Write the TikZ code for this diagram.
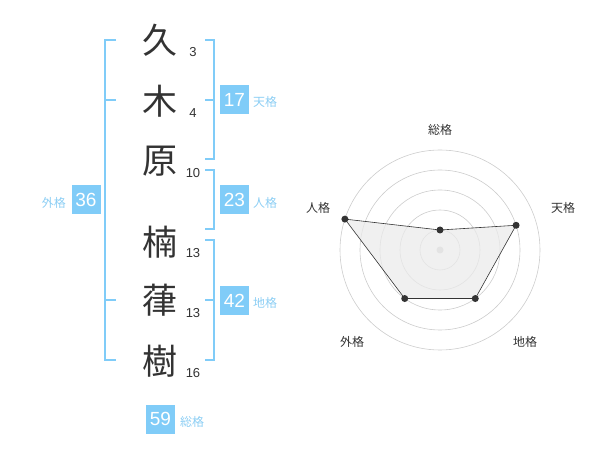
\documentclass[tikz,border=0pt]{standalone}
\usepackage{fontspec}
\setmainfont{Liberation Sans}
\newfontfamily\cjk{Noto Sans CJK JP}
\usepackage{tikz}
\definecolor{kakublue}{RGB}{128,204,248}
\definecolor{kakutext}{RGB}{140,206,244}
\definecolor{ink}{RGB}{51,51,51}
\definecolor{ringgray}{RGB}{204,204,204}
\definecolor{areagray}{RGB}{235,235,235}
\tikzset{
  kanji/.style={font=\cjk\fontsize{35}{35}\selectfont, text=ink, inner sep=0pt},
  strokes/.style={font=\fontsize{13}{13}\selectfont, text=ink, inner sep=0pt},
  kakubox/.style={fill=kakublue, text=white, minimum width=29pt, minimum height=29pt, inner sep=0pt, font=\fontsize{19}{19}\selectfont},
  kakulabel/.style={text=kakutext, font=\cjk\fontsize{12}{12}\selectfont, inner sep=0pt},
  brace/.style={draw=kakublue, line width=2pt},
  ring/.style={draw=ringgray, line width=0.6pt},
  axislabel/.style={text=ink, font=\cjk\fontsize{12}{12}\selectfont, inner sep=0pt},
  dot/.style={circle, fill=ink, inner sep=0pt, minimum size=7pt}
}
\begin{document}
\begin{tikzpicture}[x=1pt, y=-1pt]
  \useasboundingbox (0,0) rectangle (600,470);
  % name characters and stroke counts
  \node [kanji] (c1) at (160, 40) {久};
  \node [kanji] (c2) at (160, 101) {木};
  \node [kanji] (c3) at (160, 161) {原};
  \node [kanji] (c4) at (160, 242) {楠};
  \node [kanji] (c5) at (160, 300) {葎};
  \node [kanji] (c6) at (160, 361) {樹};
  \node [strokes] (s1) at (193, 52) {3};
  \node [strokes] (s2) at (193, 113) {4};
  \node [strokes] (s3) at (193, 173) {10};
  \node [strokes] (s4) at (193, 253) {13};
  \node [strokes] (s5) at (193, 313) {13};
  \node [strokes] (s6) at (193, 373) {16};
  % brackets
  \draw [brace] (116, 40) -- (105, 40) -- (105, 360) -- (116, 360);
  \draw [brace] (105, 100) -- (116, 100);
  \draw [brace] (105, 300) -- (116, 300);
  \draw [brace] (205, 40) -- (214, 40) -- (214, 159) -- (205, 159);
  \draw [brace] (205, 100) -- (214, 100);
  \draw [brace] (205, 170) -- (214, 170) -- (214, 229) -- (205, 229);
  \draw [brace] (205, 240) -- (214, 240) -- (214, 360) -- (205, 360);
  \draw [brace] (205, 300) -- (214, 300);
  % boxes and labels
  \node [kakubox] (ten) at (234.5, 100) {17};
  \node [kakulabel, anchor=west] (tenl) at (253, 102) {天格};
  \node [kakubox] (jin) at (234.5, 200) {23};
  \node [kakulabel, anchor=west] (jinl) at (253, 203) {人格};
  \node [kakubox] (chi) at (234.5, 301) {42};
  \node [kakulabel, anchor=west] (chil) at (253, 303) {地格};
  \node [kakubox] (gai) at (86, 200) {36};
  \node [kakulabel, anchor=east] (gail) at (66, 203) {外格};
  \node [kakubox] (sou) at (160.5, 419) {59};
  \node [kakulabel, anchor=west] (soul) at (180, 422) {総格};
  % radar chart
  \begin{scope}[shift={(440,250)}]
    \coordinate (ctr) at (0,0);
    \foreach \r in {20,40,60,80,100}
      \draw [ring] (ctr) circle [radius=\r];
    \fill [ringgray] (ctr) circle [radius=3.5];
    \node [axislabel] (lsou) at (0,-120) {総格};
    \node [axislabel] (lten) at (123,-42) {天格};
    \node [axislabel] (lchi) at (85,92) {地格};
    \node [axislabel] (lgai) at (-88,92) {外格};
    \node [axislabel] (ljin) at (-122,-42) {人格};
    \coordinate (vsou) at (-90:20);
    \coordinate (vten) at (-18:80);
    \coordinate (vchi) at (54:60);
    \coordinate (vgai) at (126:60);
    \coordinate (vjin) at (198:100);
  \end{scope}
  \fill [areagray, opacity=0.75] (vsou) -- (vten) -- (vchi) -- (vgai) -- (vjin) -- cycle;
  \draw [ink, line width=0.6pt] (vsou) -- (vten) -- (vchi) -- (vgai) -- (vjin) -- cycle;
  \foreach \p in {sou,ten,chi,gai,jin}
    \node [dot] (p\p) at (v\p) {};
\end{tikzpicture}
\end{document}
